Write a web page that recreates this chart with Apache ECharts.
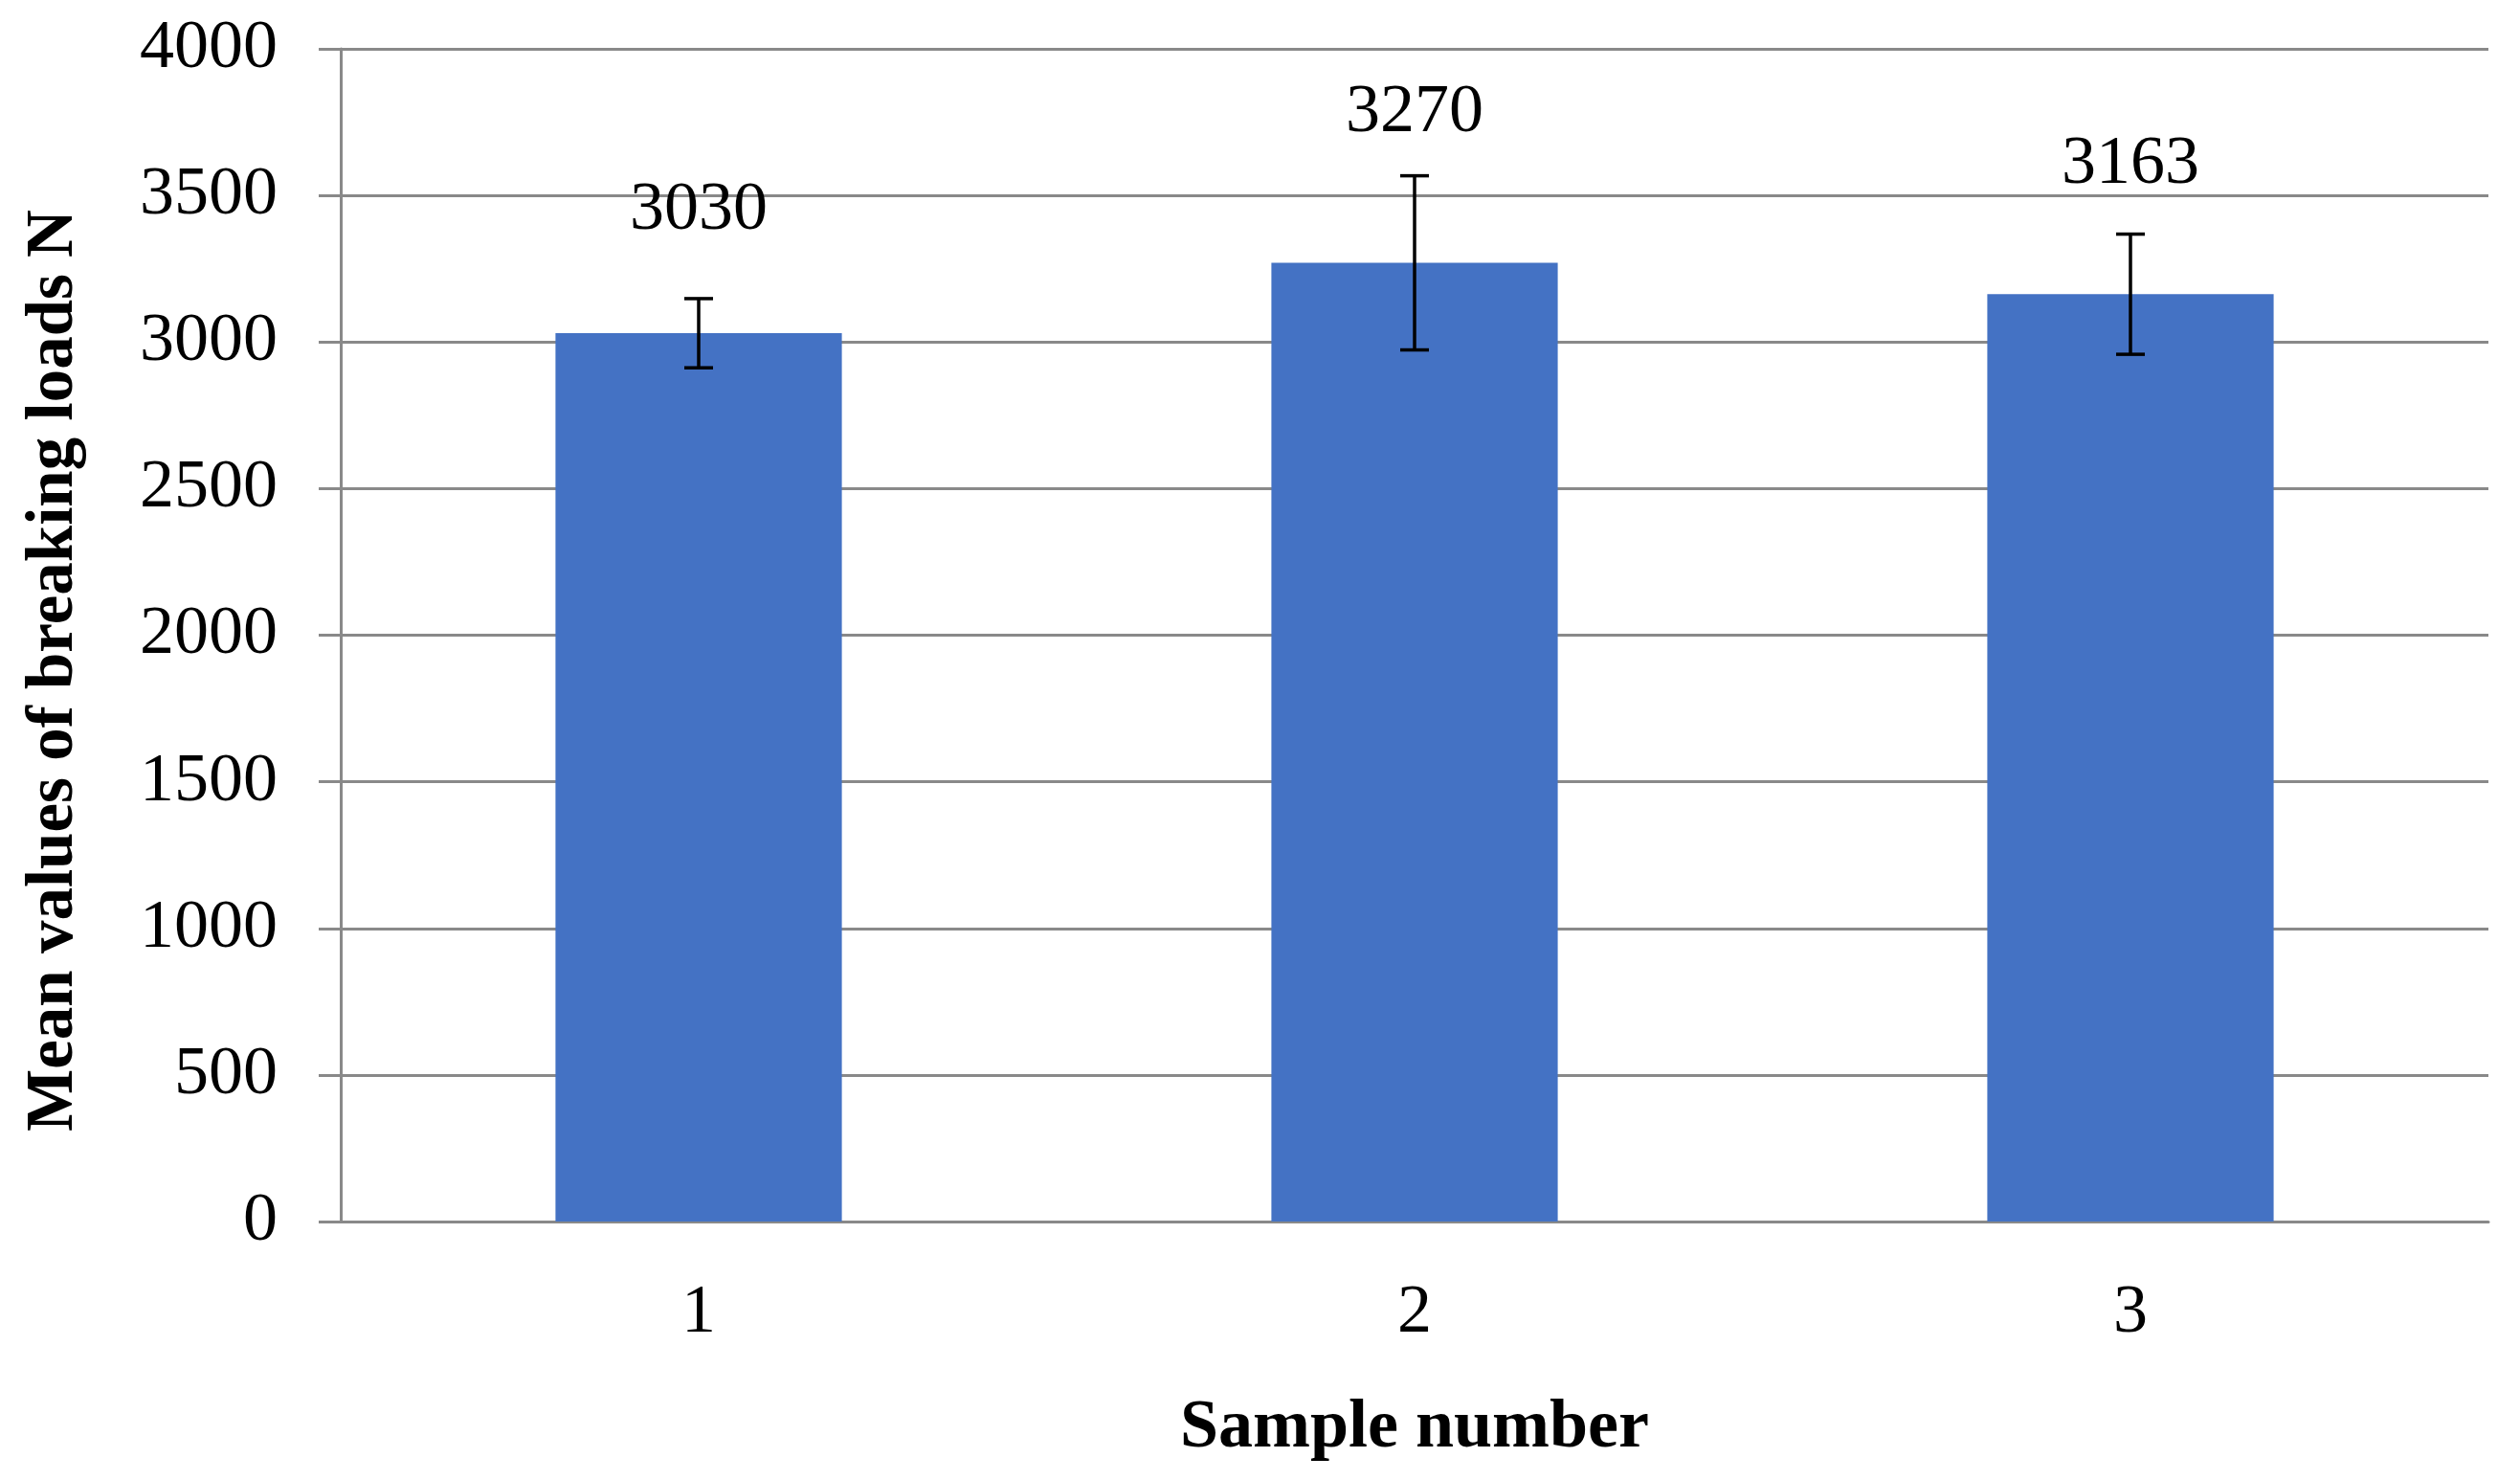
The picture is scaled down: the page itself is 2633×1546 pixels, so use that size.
<!DOCTYPE html>
<html>
<head>
<meta charset="utf-8">
<script src="https://cdn.jsdelivr.net/npm/echarts@6/dist/echarts.min.js"></script>
<style>
html,body{margin:0;padding:0;background:#fff;}
#chart{width:2633px;height:1546px;}
</style>
</head>
<body>
<div id="chart"></div>
<script>
const categories = ['1', '2', '3'];
const meanValues = [3030, 3270, 3163];
const errorValues = [118, 297, 205];
const yTicks = [0, 500, 1000, 1500, 2000, 2500, 3000, 3500, 4000];
const xAxisTitle = 'Sample number';
const yAxisTitle = 'Mean values of breaking loads N';

const FONT = '"Liberation Serif", "Times New Roman", serif';
const labelDistances = [93, 121, 100];

const chart = echarts.init(document.getElementById('chart'));
const option = {
  animation: false,
  backgroundColor: '#fff',
  grid: { left: 356, right: 33, top: 51, bottom: 270, containLabel: false },
  xAxis: {
    type: 'category',
    data: categories,
    name: xAxisTitle,
    nameLocation: 'middle',
    nameGap: 180,
    nameTextStyle: { fontFamily: FONT, fontWeight: 'bold', fontSize: 72, color: '#000', lineHeight: 72 },
    axisLine: { show: true, lineStyle: { color: '#898989', width: 3 } },
    axisTick: { show: false },
    axisLabel: { margin: 60, fontFamily: FONT, fontSize: 72, color: '#000', lineHeight: 72 },
    splitLine: { show: false }
  },
  yAxis: {
    type: 'value',
    min: yTicks[0],
    max: yTicks[yTicks.length - 1],
    interval: yTicks[1] - yTicks[0],
    name: yAxisTitle,
    nameLocation: 'middle',
    nameGap: 264,
    nameRotate: 90,
    nameTextStyle: { fontFamily: FONT, fontWeight: 'bold', fontSize: 69, color: '#000', lineHeight: 69, padding: [0, 74, 0, 0] },
    axisLine: { show: true, lineStyle: { color: '#898989', width: 3 } },
    axisTick: { show: true, length: 23, inside: false, lineStyle: { color: '#898989', width: 3 } },
    axisLabel: { margin: 66, fontFamily: FONT, fontSize: 72, color: '#000',
      formatter: v => String(v) },
    splitLine: { show: true, lineStyle: { color: '#898989', width: 3 } }
  },
  series: [
    {
      type: 'bar',
      barWidth: '40%',
      itemStyle: { color: '#4472C4' },
      data: meanValues.map((v, i) => ({
        value: v,
        label: {
          show: true, position: 'top', distance: labelDistances[i],
          fontFamily: FONT, fontSize: 72, color: '#000', lineHeight: 70
        }
      })),
      z: 2
    },
    {
      type: 'custom',
      data: meanValues.map((v, i) => [i, v - errorValues[i], v + errorValues[i]]),
      z: 5,
      renderItem: function (params, api) {
        const lo = api.coord([api.value(0), api.value(1)]);
        const hi = api.coord([api.value(0), api.value(2)]);
        const half = 15;
        const style = { stroke: '#000', lineWidth: 3.5 };
        return {
          type: 'group',
          children: [
            { type: 'line', shape: { x1: hi[0], y1: hi[1], x2: lo[0], y2: lo[1] }, style },
            { type: 'line', shape: { x1: hi[0] - half, y1: hi[1], x2: hi[0] + half, y2: hi[1] }, style },
            { type: 'line', shape: { x1: lo[0] - half, y1: lo[1], x2: lo[0] + half, y2: lo[1] }, style }
          ]
        };
      }
    }
  ]
};
chart.setOption(option);
</script>
</body>
</html>
